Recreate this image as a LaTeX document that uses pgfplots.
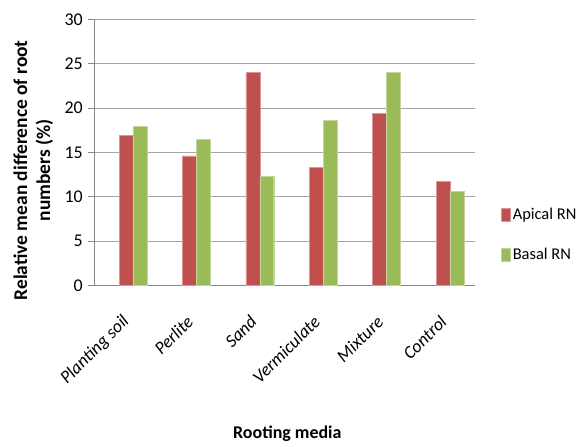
\documentclass[border=0pt]{standalone}
\usepackage{pgfplots}
\pgfplotsset{compat=1.18}
\usepackage{fontspec}
\setmainfont{Carlito}

\definecolor{apical}{HTML}{C0504D}
\definecolor{basal}{HTML}{9BBB59}
\definecolor{gridgray}{HTML}{A6A6A6}
\definecolor{axisgray}{HTML}{868686}

\newcommand{\tickfont}{\fontsize{18}{20}\selectfont}
\newcommand{\legfont}{\fontsize{16.5}{20}\selectfont}
\newcommand{\ylabfont}{\fontsize{19.5}{23}\selectfont\bfseries}
\newcommand{\xlabfont}{\fontsize{18}{22}\selectfont\bfseries}

\begin{document}
\begin{tikzpicture}
\useasboundingbox (-94.3bp,-161.7bp) rectangle (485.7bp,285.3bp);
\begin{axis}[
  at={(0,0)}, anchor=south west,
  scale only axis,
  width=380.4bp, height=266bp,
  xmin=-0.5, xmax=5.5,
  ymin=0, ymax=30,
  ytick={0,5,...,30},
  xtick={0,...,5},
  xticklabels={Planting soil, Perlite, Sand, Vermiculate, Mixture, Control},
  major x tick style={draw=none},
  extra x ticks={-0.5,0.5,...,5.5},
  extra x tick labels={},
  extra x tick style={grid=none, tick style={draw=axisgray}},
  axis x line*=bottom, axis y line*=left,
  axis line style={draw=axisgray, line width=0.8pt},
  tick align=outside,
  major tick length=6bp,
  tick style={draw=axisgray, line width=0.8pt},
  ymajorgrids,
  grid style={draw=gridgray, line width=0.9pt},
  /pgf/number format/assume math mode=true,
  yticklabel style={font=\tickfont, xshift=-2bp},
  xticklabel style={font=\tickfont\itshape, yshift=-25bp, xshift=3bp, rotate=45, anchor=east},
  ybar, bar width=0.22, bar shift=0pt,
  legend style={draw=none, fill=none, at={(1.062,0.19)}, anchor=west,
    font=\legfont, row sep=23bp, cells={anchor=west},
    /tikz/every even column/.append style={column sep=2bp}},
  legend image code/.code={\fill[#1] (0bp,-6bp) rectangle (9bp,7bp);},
]
% apical cuttings
\addplot[fill=apical, draw=apical!60!white, line width=0.3pt] coordinates {
  (0,16.9) (1,14.6) (2,24.0) (3,13.3) (4,19.4) (5,11.7)};
% basal cuttings, drawn just right of the apical bars
\addplot[fill=basal, draw=basal!60!white, line width=0.3pt] coordinates {
  (0.22,17.9) (1.22,16.5) (2.22,12.3) (3.22,18.6) (4.22,24.0) (5.22,10.6)};
\legend{Apical RN, Basal RN}
\end{axis}
\node[rotate=90, align=center, font=\ylabfont] at (-61bp,115bp)
  {Relative mean difference of root\\numbers (\%)};
\node[font=\xlabfont] at (193bp,-148bp) {Rooting media};
\end{tikzpicture}
\end{document}
